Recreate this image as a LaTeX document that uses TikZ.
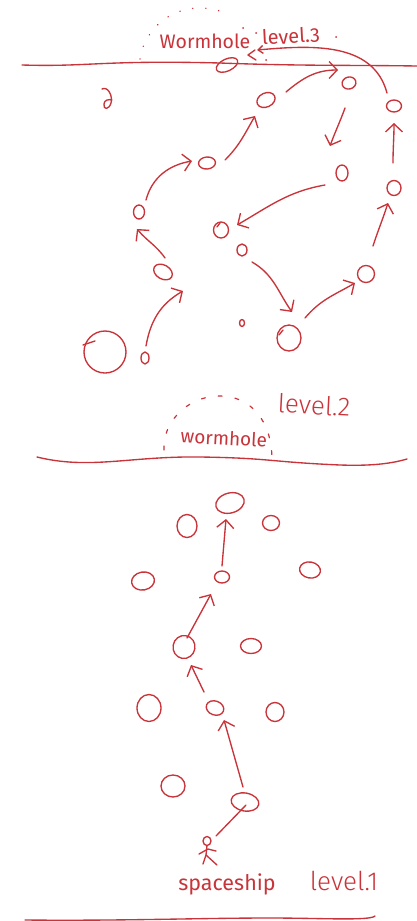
\documentclass[tikz,border=0pt]{standalone}
\usepackage{fontspec}
\setmainfont{Fira Sans}
\newfontfamily\lighthand{Fira Sans Light}
\usetikzlibrary{shapes.geometric,arrows.meta}
\definecolor{ink}{HTML}{C9343A}
\tikzset{
  x=1pt,y=1pt,
  stroke/.style={draw=ink,line width=1.35pt,line cap=round,line join=round},
  blob/.style={stroke,ellipse,inner sep=0pt,outer sep=0pt,minimum width=#1},
  arr/.style={stroke,-{Straight Barb[length=8pt,width=17pt,line width=1.35pt]}},
  hand/.style={text=ink,inner sep=0pt,font=\fontsize{#1}{#1}\selectfont},
  dotline/.style={draw=ink,line width=1.5pt,line cap=round,dash pattern=on 0.1pt off 13pt},
  dashline/.style={draw=ink,line width=1.2pt,line cap=round,dash pattern=on 4pt off 13pt},
}
\newcommand{\blobat}[6]{\node[blob=#4pt,minimum height=#5pt,rotate=#6] (#1) at (#2,-#3) {};}
% style, from node, dx, dy, to node, dx, dy, to-options
\newcommand{\conn}[8]{\draw[#1] ([shift={(#3,#4)}]#2.center) to[#8] ([shift={(#6,#7)}]#5.center);}
\begin{document}
\begin{tikzpicture}
\useasboundingbox (0,0) rectangle (417,-921);
\fill[white] (0,0) rectangle (417,-921);
% ground lines
\coordinate (t0) at (22,-65); \coordinate (t1) at (417,-66);
\draw[stroke] (t0) .. controls (90,-67) and (100,-60) .. (220,-63) .. controls (300,-66) and (350,-65) .. (t1);
\coordinate (m0) at (37,-457); \coordinate (m1) at (407,-459);
\draw[stroke] (m0) .. controls (90,-470) and (130,-456) .. (200,-457) .. controls (270,-458) and (270,-462) .. (340,-465) .. controls (370,-466) and (390,-464) .. (m1);
\coordinate (b0) at (25,-920); \coordinate (b1) at (375,-916);
\draw[stroke] (b0) .. controls (120,-921) and (200,-918) .. (270,-918) .. controls (320,-918) and (370,-921) .. (b1);
% level 3 nodes
\blobat{wh}{227}{65}{23}{12}{25}
\blobat{a}{349}{83}{14}{12}{15}
\blobat{b}{266}{100}{19}{14}{25}
\blobat{c}{207}{163}{17}{12}{5}
\blobat{d}{139}{212}{11}{14}{0}
\blobat{e}{163}{272}{20}{14}{-30}
\blobat{f}{145}{358}{8}{12}{0}
\blobat{g}{105}{352}{42}{42}{0}
\blobat{h}{221}{230}{15}{16}{0}
\blobat{i}{242}{250}{10}{12}{0}
\blobat{j}{342}{173}{12}{16}{0}
\blobat{k}{394}{188}{14}{15}{0}
\blobat{l}{394}{106}{15}{12}{0}
\blobat{m}{366}{274}{17}{17}{0}
\blobat{n}{289}{338}{24}{26}{0}
\blobat{s}{242}{323}{5}{7}{0}
\conn{arr}{f}{1}{12}{e}{20}{-19}{out=80,in=210}
\conn{arr}{e}{2}{14}{d}{-2}{-17}{out=125,in=-50}
\conn{arr}{d}{7}{12}{c}{-15}{2}{out=75,in=190}
\conn{arr}{c}{18}{3}{b}{-11}{-16}{out=45,in=-120}
\conn{arr}{b}{20}{8}{a}{-11}{13}{out=40,in=180}
\conn{arr}{a}{-4}{-25}{j}{-12}{27}{out=-110,in=70}
\conn{arr}{j}{-17}{-12}{h}{16}{5}{out=190,in=30}
\conn{arr}{i}{10}{-12}{n}{3}{26}{out=-30,in=125}
\conn{arr}{n}{16}{20}{m}{-11}{-9}{out=50,in=210}
\conn{arr}{m}{7}{28}{k}{-6}{-15}{out=72,in=-108}
\conn{arr}{k}{-1}{25}{l}{0}{-17}{out=90,in=-90}
\conn{stroke,-{Straight Barb[length=5pt,width=8pt,line width=1.35pt]}}{l}{-7}{13}{wh}{30}{15}{out=105,in=5}
\draw[stroke] (255,-50) -- (248,-55) -- (256,-60);
% level 2 and 1 nodes
\blobat{p1}{230}{503}{29}{20}{15}
\blobat{p2}{187}{526}{20}{23}{0}
\blobat{p3}{271}{523}{17}{15}{0}
\blobat{p4}{143}{581}{23}{18}{10}
\blobat{p5}{222}{577}{15}{12}{0}
\blobat{p6}{310}{570}{21}{16}{-10}
\blobat{p7}{184}{647}{22}{23}{-10}
\blobat{p8}{251}{646}{21}{15}{0}
\blobat{p9}{149}{708}{24}{27}{0}
\blobat{p10}{215}{708}{18}{14}{-20}
\blobat{p11}{275}{712}{18}{19}{0}
\blobat{p12}{173}{786}{24}{22}{0}
\blobat{p13}{245}{802}{28}{18}{-10}
\blobat{head}{207}{841}{8}{9}{0}
\conn{arr}{p5}{0}{11}{p1}{-4}{-16}{}
\conn{arr}{p7}{3}{9}{p5}{-11}{-17}{}
\conn{arr}{p10}{-11}{16}{p7}{7}{-18}{}
\conn{arr}{p13}{-2}{15}{p10}{9}{-12}{}
\conn{stroke}{head}{9}{5}{p13}{1}{-3}{}
% spaceship figure
\coordinate (hip) at (206,-855);
\draw[stroke] (head.south) -- (hip) -- (203,-864);
\draw[stroke] (hip) -- (217,-865);
\draw[stroke] (199,-854) -- (208,-849) -- (216,-851);
% small hooks
\draw[stroke] (83,-345) -- (95,-341);
\draw[stroke] (279,-335) -- (283,-330);
\draw[stroke] (217,-227) -- (220,-223);
% mark at left
\draw[stroke] (102,-89) .. controls (108,-86) and (113,-96) .. (111,-103) .. controls (109,-110) and (103,-110) .. (104,-104) .. controls (104,-100) and (109,-99) .. (112,-100);
% wormhole outlines
\coordinate (wa) at (140,-59);
\draw[dotline] (wa) .. controls (143,-35) and (165,-8) .. (200,-8) .. controls (210,-8) and (220,-10) .. (226,-14);
\fill[ink] (243,-28) circle (1pt) (256,-33) circle (1pt) (266,-60) circle (1pt) (336,-37) circle (1pt);
\coordinate (va) at (164,-450); \coordinate (vb) at (272,-460);
\draw[dashline] (va) .. controls (162,-425) and (185,-396) .. (220,-396) .. controls (250,-396) and (272,-420) .. (vb);
% text
\node[hand=19.5,anchor=center] at (205,-41) {Wormhole};
\node[hand=20,anchor=center,rotate=3] at (291,-36) {level.3};
\node[hand=26,anchor=center,rotate=-3] at (314,-405) {\lighthand level.2};
\node[hand=19,anchor=center,rotate=-3] at (224,-438) {wormhole};
\node[hand=21.5,anchor=center] at (227,-884) {spaceship};
\node[hand=26,anchor=center] at (344,-881) {\lighthand level.1};
\end{tikzpicture}
\end{document}
